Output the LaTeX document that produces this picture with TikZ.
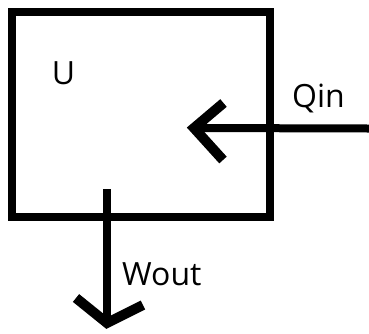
\documentclass[tikz,border=0pt]{standalone}
\usepackage{fontspec}
\setmainfont{Open Sans}
\begin{document}
\begin{tikzpicture}[x=1pt,y=-1pt,
  boxline/.style={line width=8pt},
  shaft/.style={line width=8pt,line cap=butt},
  barb/.style={line width=10pt,line cap=butt,line join=miter},
  lbl/.style={inner sep=0pt,font=\fontsize{32}{34}\selectfont}]
\useasboundingbox (0,0) rectangle (369,333);
\node[draw,boxline,minimum width=258.3pt,minimum height=205pt,inner sep=0pt,outer sep=0pt] (box) at (140.85,114.2) {};
\node[lbl,anchor=base] (u) at (63.5,84) {U};
\node[lbl,anchor=base west] (qin) at (292,107) {Qin};
\node[lbl,anchor=base west] (wout) at (122,285) {Wout};
% heat in arrow
\coordinate (qstart) at (369,128.5);
\coordinate (qtip) at (194,128);
\coordinate (qa) at (223.5,103);
\coordinate (qb) at (223,160);
\draw[shaft] (qstart) -- (qtip);
\draw[barb] (qa) -- (qtip) -- (qb);
% work out arrow
\coordinate (wstart) at (107,189);
\coordinate (wtip) at (107,323);
\coordinate (wa) at (76,298);
\coordinate (wb) at (143,305);
\draw[shaft] (wstart) -- (wtip);
\draw[barb] (wa) -- (wtip) -- (wb);
\end{tikzpicture}
\end{document}
